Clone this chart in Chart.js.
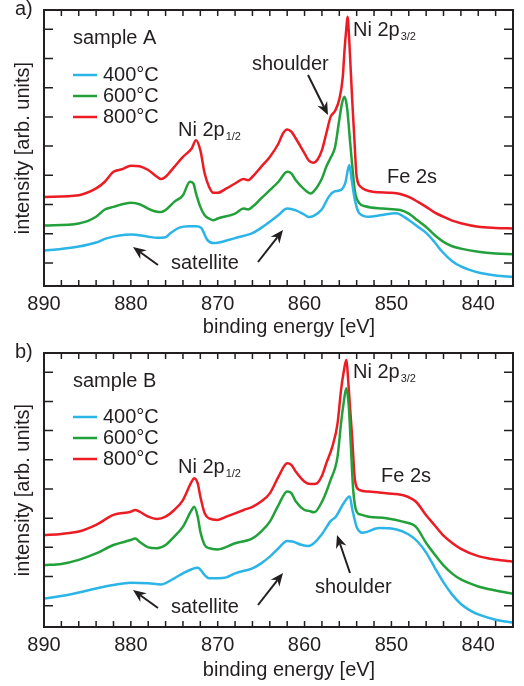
<!DOCTYPE html>
<html>
<head>
<meta charset="utf-8">
<script src="https://cdn.jsdelivr.net/npm/chart.js@4.4.0/dist/chart.umd.min.js"></script>
<style>
  html, body { margin: 0; padding: 0; background: #fff; }
  .panel { position: absolute; left: 0; width: 524px; height: 343px; }
</style>
</head>
<body>
<div class="panel" style="top:0"><canvas id="chartA" width="524" height="343"></canvas></div>
<div class="panel" style="top:343px"><canvas id="chartB" width="524" height="343"></canvas></div>
<script>
// sample A, binding energy [eV] and intensity [arb. units] per temperature
const energyA400 = [890,888,886,884,882.8,880,878,877,876,875.5,874.4,873.3,872.5,871.9,871.2,870.5,870,868,867,866,865,864,863,862,861,860,859.5,859,858,857.2,856.6,855.8,855.3,854.85,854.6,854.2,853.7,852.6,851.1,849.5,848,847,846,845,844.2,843,842,841,840,838,836];
const intensityA400 = [0.42,0.48,0.56,0.7,0.84,0.97,0.9,0.86,0.88,1.01,1.21,1.26,1.26,1.2,0.79,0.68,0.69,0.85,0.93,1.02,1.2,1.41,1.64,1.86,1.8,1.65,1.57,1.6,1.84,2.27,2.44,2.5,2.75,3.35,2.9,2.15,1.7,1.58,1.64,1.7,1.47,1.25,1.03,0.7,0.4,0.06,-0.12,-0.24,-0.33,-0.43,-0.48];

const energyA600 = [890,886,884,883,882,880,879,878,877,876.5,876,875,874,873.2,872.8,872.5,872,871.5,871,870.5,870,868,867,866.5,866,865,864,863,862,861.5,861,860,859.3,859,858,857.5,857,856.5,856,855.7,855.4,855.1,854.8,854.5,854.2,853.7,853,851,849,848,847,846,845,844,843,842,840,838,836];
const intensityA600 = [1.28,1.35,1.58,1.83,1.92,2.06,2.01,1.86,1.75,1.74,1.81,2.09,2.32,2.78,2.72,2.38,1.92,1.63,1.52,1.46,1.52,1.69,1.86,1.83,1.92,2.21,2.49,2.78,3.12,3.06,2.83,2.51,2.38,2.43,2.89,3.29,3.6,3.95,4.9,5.45,5.69,5.3,4.3,3.3,2.45,2.05,1.94,1.86,1.81,1.69,1.46,1.23,0.95,0.72,0.57,0.49,0.38,0.32,0.3];

const energyA800 = [890,886,884,883,882,881,880,879,878,877,876.5,876,875,874,873,872.5,872,871.5,871,870.5,870,869,868,867,866.5,866,865,864,863,862.5,862,861.5,861,860,859.5,859,858.5,858,857.5,857,856.5,856,855.6,855.4,855.2,855.05,854.85,854.7,854.5,854.3,854,853.5,853,852,850,849,848,847,846,845,844,843,842,840,838,836];
const intensityA800 = [2.26,2.32,2.55,2.78,3.12,3.21,3.33,3.31,3.18,2.95,2.87,2.95,3.29,3.63,3.92,4.2,3.86,3.06,2.61,2.4,2.4,2.55,2.72,2.87,2.83,2.95,3.29,3.63,4.09,4.43,4.57,4.49,4.26,3.75,3.5,3.43,3.54,3.86,4.43,5.0,5.2,5.6,6.36,7.28,8.0,8.43,7.6,6.7,5.5,4.44,2.95,2.6,2.5,2.43,2.4,2.36,2.26,2.1,1.92,1.72,1.58,1.45,1.36,1.24,1.2,1.18];

// sample B
const energyB400 = [890,888,886,884,882,880,878,876.5,875,874,873,872.3,871.5,871,870,869,868,866,865,864,863,862,861.4,860.3,859.5,858,857,856.4,855.5,854.8,854.5,854,853.3,851.4,849.5,848,847,846,845,844,843,842,841,840,838,836];
const intensityB400 = [0.25,0.33,0.45,0.59,0.71,0.79,0.77,0.73,0.94,1.11,1.25,1.3,1.05,0.94,0.94,0.97,1.11,1.28,1.45,1.68,1.97,2.22,2.2,2.08,2.05,2.45,2.9,3.05,3.51,3.74,3.3,2.7,2.5,2.66,2.62,2.44,2.2,1.82,1.3,0.8,0.38,0.06,-0.15,-0.3,-0.48,-0.58];

const energyB600 = [890,888,886,884,882,880,879.5,879,878,877,876,875,874,873,872.7,872.3,872,871.5,871,870,868,866,865,864,863,862,861.5,861,860,859.5,858.9,857.9,857,856.2,855.8,855.5,855.2,854.9,854.7,854.4,854,853.5,852.6,850.6,848.7,847.2,846,845,844,843,842,840,838,836];
const intensityB600 = [1.39,1.43,1.57,1.79,2.08,2.25,2.3,2.19,2.0,1.97,2.08,2.37,2.71,3.28,3.39,3.05,2.54,2.08,1.97,1.93,2.14,2.31,2.54,2.88,3.45,3.91,3.85,3.57,3.28,3.25,3.2,3.62,4.31,5.11,6.25,6.95,7.45,6.8,5.68,3.97,3.22,3.12,3.05,3.0,2.88,2.71,2.15,1.75,1.38,1.1,0.9,0.66,0.52,0.41];

const energyB800 = [890,888,886,884,882,880,879.5,879,878,877,876,875,874,873,872.7,872.3,872,871.5,871,870,869,867,866,865,864,863,862,861.5,861,860,859.3,858.6,858,857.5,856.8,856.2,855.8,855.5,855.2,854.9,854.5,854.2,853.7,852.6,850.6,848.7,847.2,846,845,844,843,842,840,838,836];
const intensityB800 = [2.42,2.46,2.54,2.77,3.11,3.22,3.28,3.22,3.05,2.97,3.05,3.28,3.62,4.25,4.37,4.19,3.74,3.17,2.99,2.94,3.05,3.28,3.39,3.57,3.85,4.42,4.88,4.82,4.59,4.25,4.17,4.19,4.45,4.88,5.45,6.25,7.39,8.0,8.42,7.39,5.68,4.31,3.97,3.91,3.85,3.79,3.57,3.1,2.75,2.4,2.15,1.95,1.7,1.58,1.51];

const seriesLabels = ['400°C', '600°C', '800°C'];
const seriesColors = ['#2bb4e6', '#22a03a', '#ec1c24'];
const energyMin = 836, energyMax = 890;
const energyLabels = [890, 880, 870, 860, 850, 840];

const ink = '#231f20';
const fontFamily = '"Liberation Sans", Arial, Helvetica, sans-serif';
Chart.defaults.font.family = fontFamily;
Chart.defaults.color = ink;

function toPoints(xs, ys) {
  return xs.map((x, i) => ({ x: x, y: ys[i] }));
}

function drawArrow(ctx, x1, y1, x2, y2) {
  const ang = Math.atan2(y2 - y1, x2 - x1);
  const cos = Math.cos(ang), sin = Math.sin(ang);
  const head = 13, half = 5.5, notch = 9;
  ctx.beginPath();
  ctx.moveTo(x1, y1);
  ctx.lineTo(x2 - notch * cos, y2 - notch * sin);
  ctx.stroke();
  const bx = x2 - head * cos, by = y2 - head * sin;
  ctx.beginPath();
  ctx.moveTo(x2, y2);
  ctx.lineTo(bx + half * sin, by - half * cos);
  ctx.lineTo(x2 - notch * cos, y2 - notch * sin);
  ctx.lineTo(bx - half * sin, by + half * cos);
  ctx.closePath();
  ctx.fill();
}

function drawLabel(ctx, note) {
  ctx.font = '20px ' + fontFamily;
  ctx.fillText(note.text, note.x, note.y);
  if (note.sub) {
    const w = ctx.measureText(note.text).width;
    ctx.font = '11px ' + fontFamily;
    ctx.fillText(note.sub, note.x + w + 1, note.y + 4);
  }
}

// frame, inward ticks, legend and annotations
function makeDecor(spec) {
  return {
    id: 'decor' + spec.panel,
    afterDraw(chart) {
      const { ctx, chartArea: a, scales: { x, y } } = chart;
      ctx.save();
      ctx.strokeStyle = ink;
      ctx.fillStyle = ink;
      ctx.lineWidth = 1.5;
      ctx.beginPath();
      x.ticks.forEach(t => {
        const px = x.getPixelForValue(t.value);
        if (px <= a.left + 1 || px >= a.right - 1) return;
        ctx.moveTo(px, a.bottom); ctx.lineTo(px, a.bottom - 6);
        ctx.moveTo(px, a.top); ctx.lineTo(px, a.top + 6);
      });
      y.ticks.forEach(t => {
        if (Math.abs(t.value - Math.round(t.value)) > 1e-6) return;
        const py = y.getPixelForValue(t.value);
        ctx.moveTo(a.left, py); ctx.lineTo(a.left + 9, py);
        ctx.moveTo(a.right, py); ctx.lineTo(a.right - 9, py);
      });
      ctx.stroke();
      ctx.lineWidth = 2;
      ctx.strokeRect(a.left, a.top, a.right - a.left, a.bottom - a.top);

      ctx.textBaseline = 'alphabetic';
      ctx.textAlign = 'left';
      ctx.font = '20px ' + fontFamily;
      ctx.fillText(spec.panel + ')', 15, 15);
      ctx.fillText(spec.sample, 73, spec.sampleY);

      // legend
      chart.data.datasets.forEach((ds, i) => {
        const ly = spec.legendY[i];
        ctx.strokeStyle = ds.borderColor;
        ctx.lineWidth = 2.5;
        ctx.beginPath();
        ctx.moveTo(73, ly); ctx.lineTo(97, ly);
        ctx.stroke();
        ctx.fillStyle = ink;
        ctx.font = '20px ' + fontFamily;
        ctx.fillText(ds.label, 103, ly + 6);
      });

      spec.notes.forEach(n => drawLabel(ctx, n));

      ctx.strokeStyle = ink;
      ctx.fillStyle = ink;
      ctx.lineWidth = 2;
      spec.arrows.forEach(p => drawArrow(ctx, p[0], p[1], p[2], p[3]));

      // x axis title
      ctx.font = '20px ' + fontFamily;
      ctx.textAlign = 'center';
      ctx.fillText('binding energy [eV]', 289, 333);
      ctx.restore();
    }
  };
}

function makeChart(canvasId, spec, energies, intensities) {
  const datasets = seriesLabels.map((label, i) => ({
    label: label,
    data: toPoints(energies[i], intensities[i]),
    borderColor: seriesColors[i],
    borderWidth: 2.5,
    pointRadius: 0,
    fill: false,
    cubicInterpolationMode: 'monotone'
  }));

  return new Chart(document.getElementById(canvasId).getContext('2d'), {
    type: 'line',
    data: { datasets: datasets },
    options: {
      responsive: false,
      animation: false,
      devicePixelRatio: 1,
      layout: { padding: { top: 10, right: 11, left: 0, bottom: 0 } },
      plugins: { legend: { display: false }, tooltip: { enabled: false } },
      scales: {
        x: {
          type: 'linear',
          reverse: true,
          min: energyMin,
          max: energyMax,
          afterFit: scale => { scale.height = spec.xAxisHeight; },
          grid: { display: false, drawTicks: false },
          border: { display: false },
          ticks: {
            stepSize: 2,
            autoSkip: false,
            maxRotation: 0,
            padding: 6,
            font: { size: 20 },
            color: ink,
            callback: v => energyLabels.includes(v) ? String(v) : ''
          }
        },
        y: {
          type: 'linear',
          min: spec.yMin,
          max: spec.yMax,
          afterFit: scale => { scale.width = 44; },
          grid: { display: false, drawTicks: false },
          border: { display: false },
          ticks: { display: false, stepSize: 1 },
          title: {
            display: true,
            text: 'intensity [arb. units]',
            font: { size: 20 },
            color: ink,
            padding: { top: 11, bottom: 0 }
          }
        }
      }
    },
    plugins: [makeDecor(spec)]
  });
}

makeChart('chartA', {
  panel: 'a',
  sample: 'sample A',
  sampleY: 44,
  legendY: [75, 96, 117],
  yMin: -0.79,
  yMax: 8.66,
  xAxisHeight: 57,
  notes: [
    { text: 'Ni 2p', sub: '3/2', x: 353, y: 36 },
    { text: 'Ni 2p', sub: '1/2', x: 178, y: 136 },
    { text: 'shoulder', x: 252, y: 70 },
    { text: 'Fe 2s', x: 387, y: 183 },
    { text: 'satellite', x: 171, y: 269 }
  ],
  arrows: [[308, 75, 328, 115], [158, 265, 133, 247], [258, 262, 283, 230]]
}, [energyA400, energyA600, energyA800], [intensityA400, intensityA600, intensityA800]);

makeChart('chartB', {
  panel: 'b',
  sample: 'sample B',
  sampleY: 44,
  legendY: [74, 95, 116],
  yMin: -0.73,
  yMax: 8.66,
  xAxisHeight: 59,
  notes: [
    { text: 'Ni 2p', sub: '3/2', x: 353, y: 35 },
    { text: 'Ni 2p', sub: '1/2', x: 178, y: 130 },
    { text: 'Fe 2s', x: 381, y: 139 },
    { text: 'shoulder', x: 315, y: 250 },
    { text: 'satellite', x: 171, y: 270 }
  ],
  arrows: [[350, 230, 337, 192], [158, 265, 133, 247], [258, 262, 283, 230]]
}, [energyB400, energyB600, energyB800], [intensityB400, intensityB600, intensityB800]);
</script>
</body>
</html>
